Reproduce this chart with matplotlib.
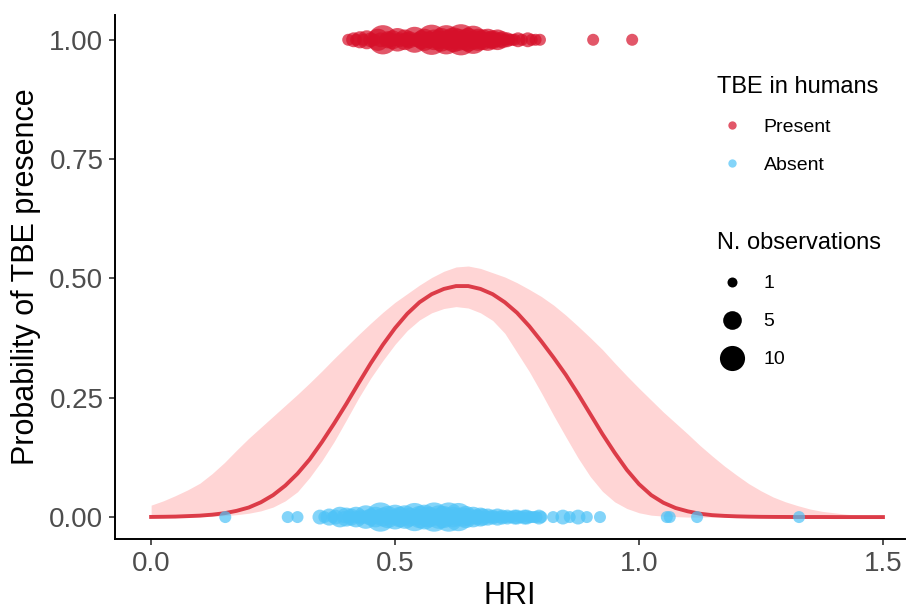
import numpy as np
import matplotlib
matplotlib.use("Agg")
import matplotlib.pyplot as plt
from matplotlib.lines import Line2D

plt.rcParams['font.family'] = ['Liberation Sans', 'DejaVu Sans']

# fitted curve and confidence band (step 0.025)
hri_grid = [0.000, 0.025, 0.050, 0.075, 0.100, 0.125, 0.150, 0.175, 0.200, 0.225,
            0.250, 0.275, 0.300, 0.325, 0.350, 0.375, 0.400, 0.425, 0.450, 0.475,
            0.500, 0.525, 0.550, 0.575, 0.600, 0.625, 0.650, 0.675, 0.700, 0.725,
            0.750, 0.775, 0.800, 0.825, 0.850, 0.875, 0.900, 0.925, 0.950, 0.975,
            1.000, 1.025, 1.050, 1.075, 1.100, 1.125, 1.150, 1.175, 1.200, 1.225,
            1.250, 1.275, 1.300, 1.325, 1.350, 1.375, 1.400, 1.425, 1.450, 1.475,
            1.500]
fit_prob = [0.0003, 0.0006, 0.001, 0.002, 0.003, 0.005, 0.008, 0.013, 0.020, 0.031,
            0.046, 0.066, 0.091, 0.121, 0.157, 0.196, 0.237, 0.280, 0.322, 0.361,
            0.396, 0.426, 0.450, 0.467, 0.478, 0.484, 0.484, 0.478, 0.467, 0.450,
            0.428, 0.400, 0.368, 0.334, 0.298, 0.258, 0.216, 0.174, 0.135, 0.099,
            0.069, 0.046, 0.030, 0.019, 0.012, 0.007, 0.004, 0.0025, 0.0015, 0.0009,
            0.0005, 0.0003, 0.0002, 0.0001, 0.0001, 0.0001, 0.0, 0.0, 0.0, 0.0,
            0.0]
fit_upper = [0.025, 0.034, 0.045, 0.057, 0.071, 0.091, 0.114, 0.140, 0.165, 0.188,
             0.211, 0.234, 0.257, 0.281, 0.306, 0.332, 0.357, 0.382, 0.406, 0.429,
             0.450, 0.468, 0.486, 0.502, 0.515, 0.524, 0.526, 0.521, 0.512, 0.503,
             0.491, 0.477, 0.462, 0.444, 0.423, 0.400, 0.376, 0.351, 0.323, 0.296,
             0.270, 0.245, 0.220, 0.197, 0.174, 0.150, 0.128, 0.107, 0.088, 0.070,
             0.055, 0.042, 0.032, 0.024, 0.017, 0.012, 0.009, 0.006, 0.004, 0.003,
             0.002]
fit_lower = [0.0, 0.0, 0.0, 0.0005, 0.001, 0.0015, 0.003, 0.005, 0.008, 0.013,
             0.021, 0.034, 0.053, 0.083, 0.118, 0.158, 0.203, 0.249, 0.291, 0.328,
             0.362, 0.391, 0.413, 0.428, 0.437, 0.441, 0.438, 0.428, 0.412, 0.385,
             0.345, 0.305, 0.260, 0.213, 0.168, 0.124, 0.085, 0.054, 0.032, 0.018,
             0.009, 0.004, 0.002, 0.001, 0.0, 0.0, 0.0, 0.0, 0.0, 0.0,
             0.0, 0.0, 0.0, 0.0, 0.0, 0.0, 0.0, 0.0, 0.0, 0.0,
             0.0]

# sites with TBE present (y = 1): (HRI, number of observations)
present_sites = [
    (0.404, 1), (0.415, 2), (0.420, 1), (0.428, 3), (0.435, 1), (0.442, 4),
    (0.450, 2), (0.458, 1), (0.465, 6), (0.470, 2), (0.475, 12), (0.480, 1),
    (0.485, 3), (0.490, 2), (0.495, 4), (0.500, 1), (0.505, 7), (0.510, 2),
    (0.515, 1), (0.520, 5), (0.525, 2), (0.530, 3), (0.535, 1), (0.540, 9),
    (0.545, 2), (0.550, 1), (0.555, 4), (0.560, 6), (0.565, 2), (0.570, 3),
    (0.575, 13), (0.580, 5), (0.585, 1), (0.590, 4), (0.595, 7), (0.600, 3),
    (0.605, 12), (0.610, 5), (0.615, 2), (0.620, 8), (0.625, 4), (0.630, 6),
    (0.635, 14), (0.640, 3), (0.645, 5), (0.650, 7), (0.655, 2), (0.660, 11),
    (0.665, 4), (0.670, 6), (0.675, 3), (0.680, 5), (0.685, 2), (0.690, 6),
    (0.695, 3), (0.700, 4), (0.705, 2), (0.710, 5), (0.715, 2), (0.720, 3),
    (0.725, 1), (0.730, 2), (0.735, 1), (0.740, 1), (0.745, 1), (0.752, 2),
    (0.760, 1), (0.772, 2), (0.780, 1), (0.788, 1), (0.797, 1), (0.906, 1),
    (0.986, 1),
]

# sites with TBE absent (y = 0)
absent_sites = [
    (0.152, 1), (0.280, 1), (0.300, 1), (0.346, 2), (0.355, 1), (0.365, 3),
    (0.372, 1), (0.378, 2), (0.387, 5), (0.395, 1), (0.400, 4), (0.405, 1),
    (0.410, 3), (0.415, 1), (0.420, 5), (0.425, 1), (0.430, 2), (0.435, 1),
    (0.440, 7), (0.445, 2), (0.450, 3), (0.455, 1), (0.460, 5), (0.465, 2),
    (0.470, 12), (0.475, 4), (0.480, 1), (0.485, 6), (0.490, 2), (0.495, 1),
    (0.500, 8), (0.505, 3), (0.510, 5), (0.515, 1), (0.520, 7), (0.525, 2),
    (0.530, 4), (0.535, 1), (0.540, 11), (0.545, 3), (0.550, 6), (0.555, 2),
    (0.560, 8), (0.565, 4), (0.570, 5), (0.575, 2), (0.580, 12), (0.585, 3),
    (0.590, 7), (0.595, 2), (0.600, 6), (0.605, 4), (0.610, 12), (0.615, 2),
    (0.620, 5), (0.625, 3), (0.630, 11), (0.635, 2), (0.640, 4), (0.645, 6),
    (0.650, 3), (0.655, 1), (0.660, 5), (0.665, 2), (0.670, 2), (0.675, 4),
    (0.680, 3), (0.685, 1), (0.690, 3), (0.695, 1), (0.700, 2), (0.705, 1),
    (0.710, 3), (0.715, 1), (0.720, 2), (0.725, 1), (0.730, 2), (0.735, 1),
    (0.740, 1), (0.745, 2), (0.750, 2), (0.755, 1), (0.760, 1), (0.765, 2),
    (0.770, 2), (0.775, 1), (0.780, 1), (0.785, 1), (0.790, 1), (0.795, 2),
    (0.800, 1), (0.824, 1), (0.844, 2), (0.858, 1), (0.875, 2), (0.893, 1),
    (0.920, 1), (1.057, 1), (1.063, 1), (1.119, 1), (1.328, 1),
]

size_breaks = [1, 5, 10]

red = '#d6102a'
blue = '#4fc3f7'


def marker_diam(n):
    # diameter in points, grows with sqrt(n)
    return 0.72 * (5 + 7 * np.sqrt(np.asarray(n, dtype=float)))


present_hri, present_n = zip(*present_sites)
absent_hri, absent_n = zip(*absent_sites)

fig = plt.figure(figsize=(9.1, 6.11), dpi=100)
ax = fig.add_axes([0.1264, 0.1178, 0.868, 0.8577])

ax.fill_between(hri_grid, fit_lower, fit_upper, color='#ffd5d5', lw=0, zorder=1)
ax.plot(hri_grid, fit_prob, color='#dc3c48', lw=2.8, zorder=2)

ax.scatter(present_hri, np.ones(len(present_hri)), s=marker_diam(present_n) ** 2,
           color=red, alpha=0.7, lw=0, zorder=3)
ax.scatter(absent_hri, np.zeros(len(absent_hri)), s=marker_diam(absent_n) ** 2,
           color=blue, alpha=0.7, lw=0, zorder=3)

ax.set_xlim(-0.074, 1.545)
ax.set_ylim(-0.046, 1.052)
ax.set_xticks([0.0, 0.5, 1.0, 1.5])
ax.set_xticklabels(['0.0', '0.5', '1.0', '1.5'])
ax.set_yticks([0.0, 0.25, 0.5, 0.75, 1.0])
ax.set_yticklabels(['0.00', '0.25', '0.50', '0.75', '1.00'])

for side in ['top', 'right']:
    ax.spines[side].set_visible(False)
for side in ['left', 'bottom']:
    ax.spines[side].set_linewidth(1.4)
    ax.spines[side].set_color('black')
ax.tick_params(direction='out', length=4.3, width=1.2, color='#333333',
               labelcolor='#4d4d4d', labelsize=20, pad=4)

ax.set_xlabel('HRI', fontsize=22, labelpad=3)
ax.set_ylabel('Probability of TBE presence', fontsize=22, labelpad=6)

# legends
colour_handles = [Line2D([], [], ls='', marker='o', ms=6, mew=0, color=red, alpha=0.7),
                  Line2D([], [], ls='', marker='o', ms=6, mew=0, color=blue, alpha=0.7)]
leg1 = ax.legend(colour_handles, ['Present', 'Absent'], title='TBE in humans',
                 loc='upper left', bbox_to_anchor=(0.752, 0.898), frameon=False,
                 fontsize=14, title_fontsize=17, labelspacing=1.05,
                 handlelength=1.6, handletextpad=0.8, alignment='left',
                 borderaxespad=0)
ax.add_artist(leg1)

size_handles = [Line2D([], [], ls='', marker='o', mew=0, color='black',
                       ms=0.72 * (3 + 7 * np.sqrt(b))) for b in size_breaks]
ax.legend(size_handles, [str(b) for b in size_breaks], title='N. observations',
          loc='upper left', bbox_to_anchor=(0.752, 0.6), frameon=False,
          fontsize=14, title_fontsize=17, labelspacing=1.05,
          handlelength=1.6, handletextpad=0.8, alignment='left',
          borderaxespad=0)

fig.savefig('out.png', dpi=100)
